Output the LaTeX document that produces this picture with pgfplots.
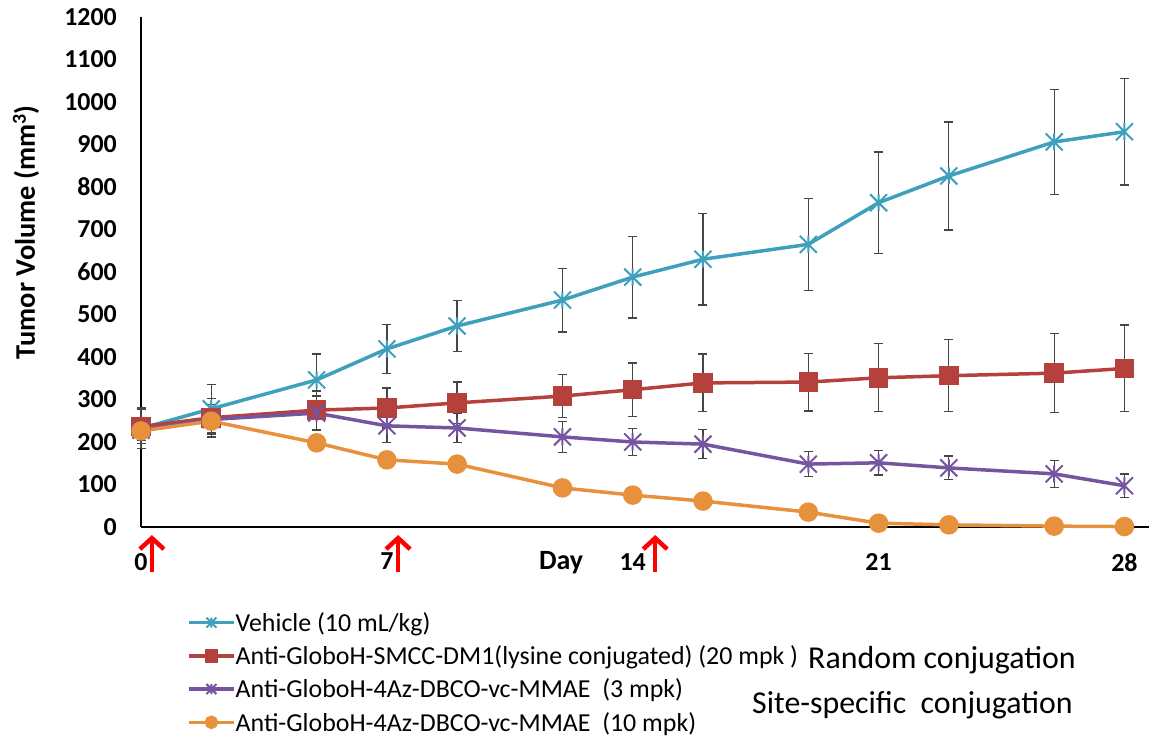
\documentclass[border=0pt]{standalone}
\usepackage{fontspec}
\setmainfont{Carlito}
\usepackage{pgfplots}
\pgfplotsset{compat=1.18}
\usetikzlibrary{arrows.meta}
\definecolor{cteal}{RGB}{62,160,186}
\definecolor{cred}{RGB}{180,65,60}
\definecolor{cpurple}{RGB}{117,85,160}
\definecolor{corange}{RGB}{232,145,60}
\definecolor{cerr}{RGB}{70,70,70}
\pgfdeclareplotmark{xstar}{%
  \pgfpathmoveto{\pgfqpoint{-\pgfplotmarksize}{-\pgfplotmarksize}}%
  \pgfpathlineto{\pgfqpoint{\pgfplotmarksize}{\pgfplotmarksize}}%
  \pgfpathmoveto{\pgfqpoint{-\pgfplotmarksize}{\pgfplotmarksize}}%
  \pgfpathlineto{\pgfqpoint{\pgfplotmarksize}{-\pgfplotmarksize}}%
  \pgfpathmoveto{\pgfqpoint{0pt}{-\pgfplotmarksize}}%
  \pgfpathlineto{\pgfqpoint{0pt}{\pgfplotmarksize}}%
  \pgfusepathqstroke}
\pgfplotstableread{
x y e
0 232 48
2 278 57
5 346 61
7 419 58
9 473 60
12 534 75
14 588 96
16 630 108
19 665 108
21 763 119
23 826 127
26 906 123
28 930 125
}\vehicle
\pgfplotstableread{
x y e
0 236 40
2 257 45
5 275 45
7 280 47
9 292 49
12 308 51
14 323 63
16 339 68
19 341 68
21 351 80
23 356 85
26 362 93
28 373 102
}\smcc
\pgfplotstableread{
x y e
0 228 25
2 253 35
5 268 40
7 238 40
9 233 35
12 212 36
14 200 32
16 195 34
19 148 30
21 151 29
23 139 28
26 125 32
28 97 28
}\mmaeA
\pgfplotstableread{
x y
0 226
2 249
5 198
7 158
9 148
12 92
14 75
16 61
19 35
21 9
23 5
26 2
28 1
}\mmaeB
\begin{document}
\begin{tikzpicture}[x=1bp,y=1bp]
\useasboundingbox (0,0) rectangle (1149,739);
\begin{axis}[
  at={(141bp,212bp)}, anchor=south west,
  scale only axis, width=1008bp, height=510bp,
  xmin=0, xmax=28.7, ymin=0, ymax=1200,
  clip=false,
  axis x line=bottom, axis y line=left,
  axis line style={-, line width=2.5bp, black},
  xtick={0,7,14,21,28}, ytick={0,100,...,1200},
  major tick length=0pt,
  /pgf/number format/assume math mode=true,
  /pgf/number format/1000 sep={},
  tick label style={font=\fontsize{26}{30}\selectfont\bfseries},
  yticklabel style={anchor=east, inner sep=0pt, xshift=-24bp},
  xticklabel style={anchor=north, inner sep=0pt, yshift=-26bp},
  xlabel={Day},
  xlabel style={at={(axis description cs:0.4167,0)}, anchor=north, inner sep=0pt, yshift=-24bp, font=\fontsize{28}{31}\selectfont\bfseries},
  ylabel={Tumor Volume (mm\textsuperscript{3})},
  ylabel style={at={(axis description cs:-0.114,0.578)}, anchor=center, inner sep=0pt, font=\fontsize{28.5}{31}\selectfont\bfseries},
  legend cell align=left,
  legend style={at={(axis description cs:0.0456,-0.167)}, anchor=north west, draw=none, fill=none, inner sep=0pt,
    font=\fontsize{26}{30}\selectfont, row sep=12.8bp,
    nodes={inner sep=0pt},
    /tikz/every even column/.append style={column sep=3bp}},
  legend image code/.code={%
    \draw[#1] (0bp,0bp) -- (45bp,0bp);
    \draw[#1, mark size=5bp] plot coordinates {(22.5bp,0bp)};},
  error bars/error bar style={line width=1.3bp, draw=cerr},
  error bars/error mark options={rotate=90, mark size=4.5bp, line width=1.3bp, draw=cerr},
]
\addplot[cteal, line width=3.5bp, mark=xstar, mark size=8.5bp, mark options={line width=2bp},
  error bars/.cd, y dir=both, y explicit]
  table[x=x, y=y, y error=e] {\vehicle};
\addlegendentry{Vehicle (10 mL/kg)}
\addplot[cred, line width=3.5bp, mark=square*, mark size=8bp, mark options={fill=cred},
  error bars/.cd, y dir=both, y explicit]
  table[x=x, y=y, y error=e] {\smcc};
\addlegendentry{Anti-GloboH-SMCC-DM1(lysine conjugated) (20 mpk )}
\addplot[cpurple, line width=3.5bp, mark=xstar, mark size=8.5bp, mark options={line width=2bp},
  error bars/.cd, y dir=both, y explicit]
  table[x=x, y=y, y error=e] {\mmaeA};
\addlegendentry{Anti-GloboH-4Az-DBCO-vc-MMAE\ \ (3 mpk)}
\addplot[corange, line width=3.5bp, mark=*, mark size=8bp, mark options={fill=corange}]
  table[x=x, y=y] {\mmaeB};
\addlegendentry{Anti-GloboH-4Az-DBCO-vc-MMAE\ \ (10 mpk)}
\pgfplotsinvokeforeach{0.31,7.32,14.64}{
  \draw[red, line width=4.5bp, -{Straight Barb[length=11bp, width=24bp]}] (axis cs:#1,-105) -- (axis cs:#1,-19);
}
\end{axis}
\node[anchor=west, inner sep=0pt, font=\fontsize{32}{36}\selectfont] at (808,79) {Random conjugation};
\node[anchor=west, inner sep=0pt, font=\fontsize{32}{36}\selectfont] at (752,34) {Site-specific\ \ conjugation};
\end{tikzpicture}
\end{document}
